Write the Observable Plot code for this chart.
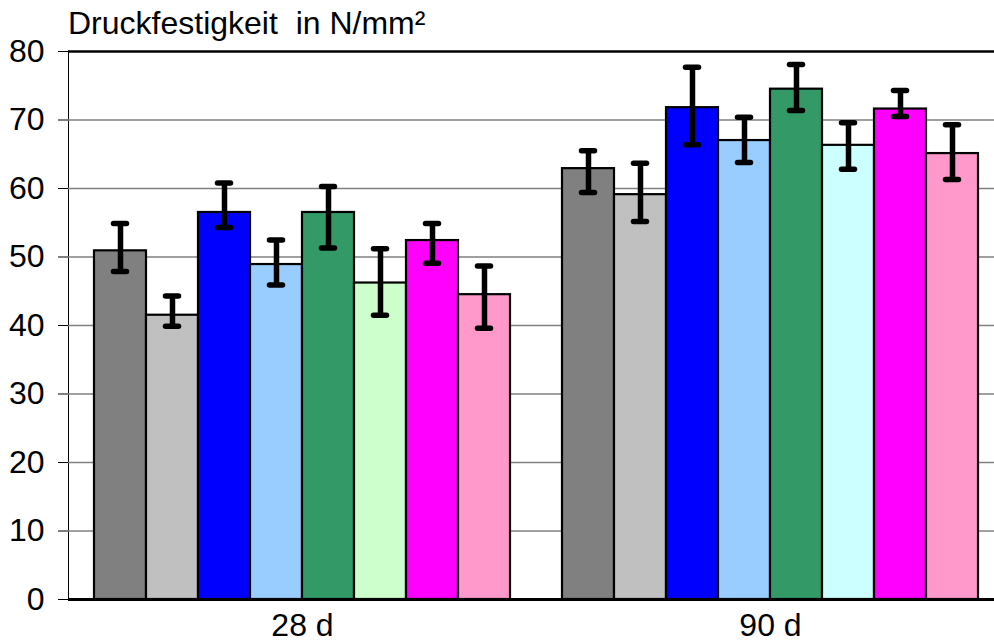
<!DOCTYPE html>
<html><head><meta charset="utf-8">
<script src="https://cdn.jsdelivr.net/npm/d3@7"></script>
<script src="https://cdn.jsdelivr.net/npm/@observablehq/plot@0.6"></script>
<style>
body{margin:0;background:#fff;font-family:"Liberation Sans",Arial,sans-serif;}
#wrap{position:relative;width:994px;height:643px;overflow:hidden;background:#fff}
#title{position:absolute;left:68px;top:1px;font-size:32px;line-height:44px;white-space:pre;color:#000;z-index:2}
</style></head><body>
<div id="wrap"><div id="title">Druckfestigkeit  in N/mm²</div><div id="chart"></div></div>
<script>
const ages = ["28 d", "90 d"];
const samples = ["P1", "P2", "P3", "P4", "P5", "P6", "P7", "P8"];
const colors28 = ["#808080", "#c0c0c0", "#0000ff", "#99ccff", "#339966", "#ccffcc", "#ff00ff", "#ff99cc"];
const colors90 = ["#808080", "#c0c0c0", "#0000ff", "#99ccff", "#339966", "#ccffff", "#ff00ff", "#ff99cc"];
const mean28 = [50.9, 41.5, 56.5, 48.9, 56.5, 46.2, 52.4, 44.5];
const lo28   = [47.9, 39.9, 54.3, 45.9, 51.3, 41.5, 49.1, 39.6];
const hi28   = [54.9, 44.3, 60.8, 52.5, 60.3, 51.2, 54.9, 48.7];
const mean90 = [62.9, 59.1, 71.8, 67.0, 74.5, 66.3, 71.6, 65.1];
const lo90   = [59.4, 55.2, 66.4, 63.8, 71.4, 62.8, 70.5, 61.3];
const hi90   = [65.5, 63.7, 77.7, 70.4, 78.1, 69.6, 74.3, 69.3];
const yTicks = [0, 10, 20, 30, 40, 50, 60, 70, 80];
const gridVals = [10, 20, 30, 40, 50, 60, 70];

const groups = [
  {age: ages[0], mean: mean28, lo: lo28, hi: hi28, colors: colors28},
  {age: ages[1], mean: mean90, lo: lo90, hi: hi90, colors: colors90}
];
const data = [];
for (const g of groups) {
  samples.forEach((s, i) => data.push({age: g.age, sample: s, mean: g.mean[i], lo: g.lo[i], hi: g.hi[i], color: g.colors[i]}));
}

const chart = Plot.plot({
  width: 994, height: 643,
  marginTop: 51, marginBottom: 44, marginLeft: 68, marginRight: 0,
  style: {fontFamily: "'Liberation Sans', Arial, sans-serif", fontSize: "32px", color: "black", background: "white"},
  facet: {data: data, x: "age"},
  fx: {domain: ages, range: [68, 1004], padding: 0, axis: "bottom", label: null, tickSize: 0, tickPadding: 14},
  x: {domain: samples, axis: null, paddingInner: 0, paddingOuter: 0.5},
  y: {domain: [0, 80], ticks: yTicks, tickSize: 10, tickPadding: 14, label: null, line: true},
  color: {type: "identity"},
  marks: [
    Plot.ruleY(gridVals, {stroke: "#808080", strokeWidth: 1.5}),
    Plot.barY(data, {x: "sample", y: "mean", fill: "color", stroke: "black", strokeWidth: 2.2}),
    Plot.ruleX(data, {x: "sample", y1: "lo", y2: "hi", stroke: "black", strokeWidth: 5.5}),
    Plot.tickY(data, {x: "sample", y: "lo", stroke: "black", strokeWidth: 5.5, strokeLinecap: "round", insetLeft: 19.5, insetRight: 19.5}),
    Plot.tickY(data, {x: "sample", y: "hi", stroke: "black", strokeWidth: 5.5, strokeLinecap: "round", insetLeft: 19.5, insetRight: 19.5}),
    Plot.ruleY([0], {stroke: "black", strokeWidth: 3}),
    Plot.ruleY([80], {stroke: "black", strokeWidth: 2.5})
  ]
});
document.getElementById("chart").appendChild(chart);
</script>
</body></html>
